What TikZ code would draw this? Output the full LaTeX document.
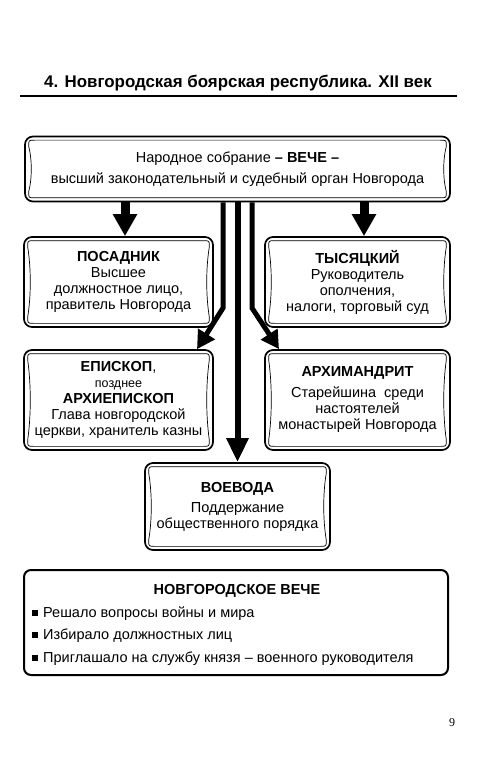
\documentclass[tikz,border=0pt]{standalone}
\usepackage{fontspec}
\setmainfont{Liberation Sans}
\newfontfamily\pagefont{Liberation Serif}
\usetikzlibrary{arrows.meta,calc}
\newcommand\framein[1]{%
  \draw[innerline] let \p1=($(#1.north west)+(4.5,4.5)$), \p2=($(#1.south east)+(-4.5,-4.5)$), \n1={(\y1-\y2)/3} in
  (\x1+6pt,\y1) -- (\x2-6pt,\y1) .. controls (\x2,\y1) .. (\x2,\y1-6pt)
  .. controls (\x2-3.5pt,\y1-\n1*1pt) and (\x2-3.5pt,\y2+\n1*1pt) .. (\x2,\y2+6pt)
  .. controls (\x2,\y2) .. (\x2-6pt,\y2) -- (\x1+6pt,\y2)
  .. controls (\x1,\y2) .. (\x1,\y2+6pt)
  .. controls (\x1+3.5pt,\y2+\n1*1pt) and (\x1+3.5pt,\y1-\n1*1pt) .. (\x1,\y1-6pt)
  .. controls (\x1,\y1) .. cycle;}
\begin{document}
\begin{tikzpicture}[x=1pt,y=-1pt,
  box/.style={draw, line width=1.7pt, rounded corners=8pt, align=center, inner sep=0pt,
    font=\fontsize{14.5}{16}\selectfont},
  innerline/.style={line width=0.7pt},
  fat/.style={line width=9pt, -{Triangle[width=23pt,length=22pt]}},
  cline/.style={line width=5pt, line join=miter, -{Triangle[width=19pt,length=18pt]}},
  mline/.style={line width=6pt, -{Triangle[width=21pt,length=24pt]}},
  listtext/.style={anchor=base west, inner sep=0pt, font=\fontsize{14.5}{16}\selectfont},
  bul/.style={fill=black, minimum size=6pt, inner sep=0pt}]
\useasboundingbox (0,0) rectangle (500,759);

% title
\node[font=\fontsize{16.9}{19}\selectfont\bfseries, inner sep=0pt] (title) at (238,83)
  {4. Новгородская боярская республика. XII век};
\coordinate (ul1) at (20,96);
\coordinate (ul2) at (457,96);
\draw[line width=1.8pt] (ul1) -- (ul2);

% boxes
\node[box, minimum width=425pt, minimum height=65pt] (top) at (237.5,169)
  {Народное собрание \textbf{– ВЕЧЕ –}\\[5pt]высший законодательный и судебный орган Новгорода};
\node[box, minimum width=189pt, minimum height=90pt] (pos) at (118.5,282)
  {\textbf{ПОСАДНИК}\\Высшее\\должностное лицо,\\правитель Новгорода};
\node[box, minimum width=185pt, minimum height=90pt] (tys) at (357.5,282)
  {\textbf{ТЫСЯЦКИЙ}\\Руководитель\\ополчения,\\налоги, торговый суд};
\node[box, minimum width=189pt, minimum height=100pt] (epi) at (118.5,400)
  {\textbf{ЕПИСКОП},\\{\fontsize{12.5}{15}\selectfont позднее}\\\textbf{АРХИЕПИСКОП}\\Глава новгородской\\церкви, хранитель казны};
\node[box, minimum width=185pt, minimum height=100pt] (arh) at (357.5,400)
  {\textbf{АРХИМАНДРИТ}\\[5pt]Старейшина\ \ среди\\настоятелей\\монастырей Новгорода};
\node[box, minimum width=185pt, minimum height=87pt] (voe) at (237.5,506.5)
  {\textbf{ВОЕВОДА}\\[4pt]Поддержание\\общественного порядка};
\foreach \bx in {top,pos,tys,epi,arh,voe} {\framein{\bx}}

% list box
\node[draw, line width=2pt, rounded corners=7pt, minimum width=424pt, minimum height=105pt] (list) at (236,622.5) {};
\node[inner sep=0pt, font=\fontsize{14.5}{16}\selectfont\bfseries, anchor=base] (lt) at (237,594) {НОВГОРОДСКОЕ ВЕЧЕ};
\node[listtext] (l1) at (43,617) {Решало вопросы войны и мира};
\node[listtext] (l2) at (43,639) {Избирало должностных лиц};
\node[listtext] (l3) at (43,662) {Приглашало на службу князя – военного руководителя};
\node[bul] (b1) at (35,613) {};
\node[bul] (b2) at (35,635) {};
\node[bul] (b3) at (35,658) {};

% arrows
\draw[fat] (top.south -| 125,0) -- (pos.north -| 125,0);
\draw[fat] (top.south -| 364,0) -- (tys.north -| 364,0);
\draw[cline] (top.south -| 223,0) -- (223,308) -- (epi.north -| 197,0);
\draw[cline] (top.south -| 252,0) -- (252,308) -- (arh.north -| 279,0);
\draw[mline] (top.south -| 237.5,0) -- (voe.north);

% page number
\node[font=\pagefont\fontsize{12}{14}\selectfont, inner sep=0pt] (pg) at (452,723) {9};
\end{tikzpicture}
\end{document}
